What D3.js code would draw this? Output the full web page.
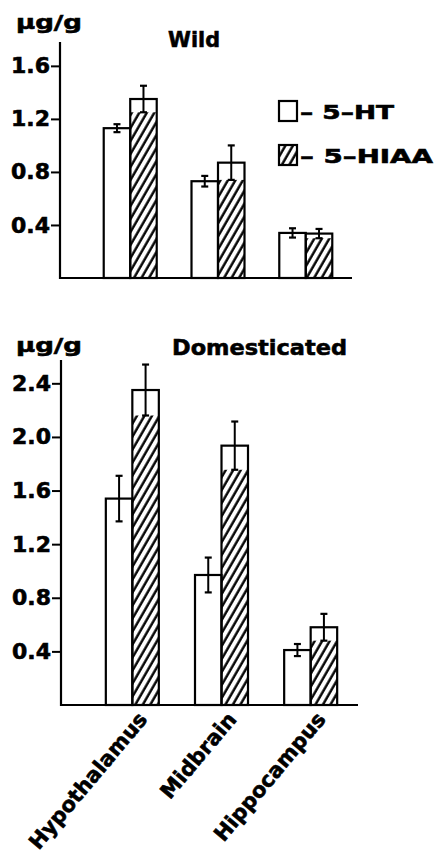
<!DOCTYPE html>
<html>
<head>
<meta charset="utf-8">
<script src="https://cdn.jsdelivr.net/npm/d3@7"></script>
<style>
  html, body { margin: 0; padding: 0; background: #fff; }
  svg { display: block; }
  text { font-family: "DejaVu Sans", sans-serif; font-weight: bold; fill: #000; stroke: #000; stroke-width: 0.6px; }
</style>
</head>
<body>
<svg id="chart" width="437" height="856"></svg>
<script>
// ---- data ----
const categories = ["Hypothalamus", "Midbrain", "Hippocampus"];
const series = ["5-HT", "5-HIAA"];
const legendLabels = ["– 5–HT", "– 5–HIAA"];

const wildHT = [1.13, 0.73, 0.34];
const wildHTErr = [0.03, 0.04, 0.035];
const wildHIAA = [1.35, 0.87, 0.335];
const wildHIAAErr = [0.10, 0.13, 0.035];

const domHT = [1.54, 0.97, 0.41];
const domHTErr = [0.17, 0.13, 0.045];
const domHIAA = [2.35, 1.935, 0.58];
const domHIAAErr = [0.19, 0.18, 0.10];

const wildTicks = [0.4, 0.8, 1.2, 1.6];
const wildTickLabels = ["0.4", "0.8", "1.2", "1.6"];
const domTicks = [0.4, 0.8, 1.2, 1.6, 2.0, 2.4];
const domTickLabels = ["0.4", "0.8", "1.2", "1.6", "2.0", "2.4"];

const unitLabel = "µg/g";
const wildTitle = "Wild";
const domTitle = "Domesticated";

// ---- drawing ----
const svg = d3.select("#chart");
svg.append("rect").attr("width", 437).attr("height", 856).attr("fill", "#fff");

const defs = svg.append("defs");
defs.append("pattern")
  .attr("id", "hatch")
  .attr("patternUnits", "userSpaceOnUse")
  .attr("width", 6.5).attr("height", 10)
  .attr("patternTransform", "rotate(30)")
  .append("line")
  .attr("x1", 1.5).attr("y1", 0).attr("x2", 1.5).attr("y2", 10)
  .attr("stroke", "#000").attr("stroke-width", 2.4);

function panel(opts) {
  const g = svg.append("g");
  const y = d3.scaleLinear().domain([0, opts.yMax]).range([opts.y0, opts.yTop]);
  const x = d3.scalePoint().domain(categories).range(opts.xRange).padding(0.8);
  const xs = d3.scaleBand().domain(series).range([-26.5, 26.5]).padding(0);

  // axes
  const yAxis = d3.axisLeft(y)
    .tickValues(opts.ticks)
    .tickFormat((d, i) => opts.tickLabels[i])
    .tickSize(9).tickPadding(1).tickSizeOuter(0);
  const ag = g.append("g").attr("transform", `translate(${opts.axisX},0)`).call(yAxis);
  ag.attr("font-size", null).attr("font-family", null);
  ag.select(".domain").remove();
  ag.selectAll(".tick line").attr("stroke", "#000").attr("stroke-width", 2);
  ag.selectAll(".tick text")
    .attr("font-size", 22)
    .style("font-size", "22px")
    .attr("fill", "#000");

  g.append("line").attr("x1", opts.axisX).attr("x2", opts.axisX)
    .attr("y1", opts.yTopLine).attr("y2", opts.y0 + 1)
    .attr("stroke", "#000").attr("stroke-width", 2.2);
  g.append("line").attr("x1", opts.axisX - 1).attr("x2", opts.xEnd)
    .attr("y1", opts.y0).attr("y2", opts.y0)
    .attr("stroke", "#000").attr("stroke-width", 2.2);

  const rows = [];
  categories.forEach((c, i) => {
    rows.push({cat: c, s: series[0], v: opts.ht[i], e: opts.htErr[i]});
    rows.push({cat: c, s: series[1], v: opts.hiaa[i], e: opts.hiaaErr[i]});
  });

  const bars = g.selectAll(".bar").data(rows).enter().append("g");
  bars.append("rect")
    .attr("x", d => x(d.cat) + xs(d.s))
    .attr("y", d => y(d.v))
    .attr("width", xs.bandwidth())
    .attr("height", d => opts.y0 - y(d.v))
    .attr("fill", d => d.s === series[1] ? "url(#hatch)" : "#fff");
  bars.filter(d => d.s === series[1]).append("rect")
    .attr("x", d => x(d.cat) + xs(d.s))
    .attr("y", d => y(d.v))
    .attr("width", xs.bandwidth())
    .attr("height", d => y(d.v - d.e) - y(d.v))
    .attr("fill", "#fff");
  bars.append("rect")
    .attr("x", d => x(d.cat) + xs(d.s))
    .attr("y", d => y(d.v))
    .attr("width", xs.bandwidth())
    .attr("height", d => opts.y0 - y(d.v))
    .attr("fill", "none").attr("stroke", "#000").attr("stroke-width", 2.2);

  // error bars
  const cx = d => x(d.cat) + xs(d.s) + xs.bandwidth() / 2;
  bars.append("line")
    .attr("x1", cx).attr("x2", cx)
    .attr("y1", d => y(d.v + d.e)).attr("y2", d => y(d.v - d.e))
    .attr("stroke", "#000").attr("stroke-width", 2);
  [1, -1].forEach(sg => {
    bars.append("line")
      .attr("x1", d => cx(d) - 3.5).attr("x2", d => cx(d) + 3.5)
      .attr("y1", d => y(d.v + sg * d.e)).attr("y2", d => y(d.v + sg * d.e))
      .attr("stroke", "#000").attr("stroke-width", 2.2);
  });

  // unit and title
  g.append("text").attr("x", 16).attr("y", opts.unitY)
    .attr("textLength", 66).attr("lengthAdjust", "spacingAndGlyphs")
    .style("font-size", "20px").text(unitLabel);
  g.append("text").attr("x", opts.titleX).attr("y", opts.titleY)
    .attr("textLength", opts.titleLen).attr("lengthAdjust", "spacingAndGlyphs")
    .style("font-size", "22px").text(opts.title);

  return {x, y};
}

panel({
  yMax: 1.78, y0: 278, yTop: 42, yTopLine: 42, axisX: 60, xEnd: 352,
  xRange: [60, 376],
  ticks: wildTicks, tickLabels: wildTickLabels,
  ht: wildHT, htErr: wildHTErr, hiaa: wildHIAA, hiaaErr: wildHIAAErr,
  unitY: 29, title: wildTitle, titleX: 168, titleY: 47, titleLen: 52
});

const bottom = panel({
  yMax: 2.574, y0: 705, yTop: 360, yTopLine: 360, axisX: 61, xEnd: 358,
  xRange: [61, 382],
  ticks: domTicks, tickLabels: domTickLabels,
  ht: domHT, htErr: domHTErr, hiaa: domHIAA, hiaaErr: domHIAAErr,
  unitY: 352, title: domTitle, titleX: 172, titleY: 355, titleLen: 175
});

// category labels
svg.append("g").selectAll("text").data(categories).enter().append("text")
  .attr("transform", d => `translate(${bottom.x(d) + 16},720) rotate(-50)`)
  .attr("text-anchor", "end")
  .style("font-size", "21px")
  .text(d => d);

// legend
const lg = svg.append("g");
series.forEach((s, i) => {
  const yy = 101 + i * 44;
  lg.append("rect").attr("x", 279).attr("y", yy).attr("width", 18).attr("height", 20)
    .attr("fill", i === 1 ? "url(#hatch)" : "#fff")
    .attr("stroke", "#000").attr("stroke-width", 2.2);
  lg.append("text").attr("x", 300).attr("y", yy + 18)
    .attr("textLength", i === 1 ? 133 : 94).attr("lengthAdjust", "spacingAndGlyphs")
    .style("font-size", "20px").text(legendLabels[i]);
});
</script>
</body>
</html>
